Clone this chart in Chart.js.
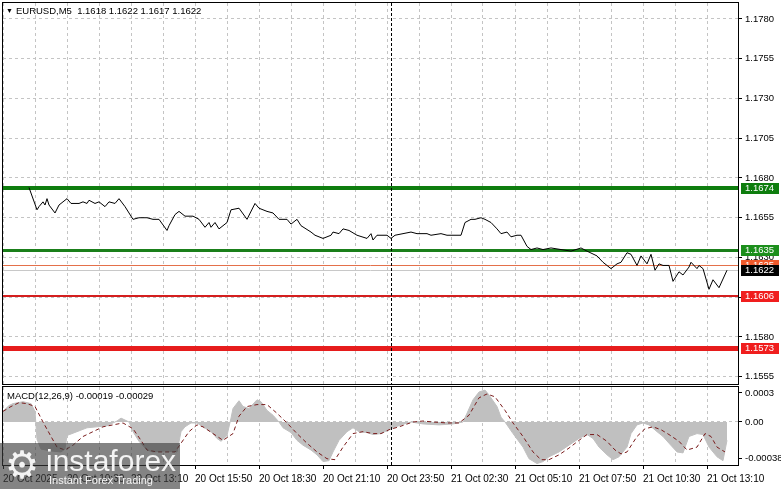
<!DOCTYPE html>
<html lang="en">
<head>
<meta charset="utf-8" />
<title>EURUSD M5</title>
<style>
  body { margin: 0; background: #fff; }
  #wrap { position: relative; width: 781px; height: 489px; overflow: hidden; font-family: "Liberation Sans", Arial, sans-serif; }
  canvas { position: absolute; left: 0; }
  #mainChart { top: 0; }
  #macdChart { top: 386px; }
  .caption { position: absolute; font-size: 9.5px; line-height: 11px; color: #000; white-space: pre; z-index: 2; }
  .caption .tri { font-size: 7px; vertical-align: 1px; margin-right: 3px; }
  #brand { position: absolute; left: 0; top: 443px; width: 180px; height: 46px; background: rgba(60,60,60,0.63); z-index: 3; color: #f4f4f4; }
  #brand .gear { position: absolute; left: 5px; top: 1px; font: 38px/42px "DejaVu Sans", sans-serif; }
  #brand .word { position: absolute; left: 46px; top: 2px; font: 30px/32px "Liberation Sans", Arial, sans-serif; }
  #brand .tag { position: absolute; left: 49px; top: 31px; font: 11px/13px "Liberation Sans", Arial, sans-serif; }
</style>
</head>
<body>

<div id="wrap">
  <canvas id="mainChart" width="781" height="386"></canvas>
  <canvas id="macdChart" width="781" height="103"></canvas>
  <div class="caption" style="left:6px; top:5px;"><span class="tri">▼</span>EURUSD,M5  1.1618 1.1622 1.1617 1.1622</div>
  <div class="caption" style="left:7px; top:390px;">MACD(12,26,9) -0.00019 -0.00029</div>
  <div id="brand"><span class="gear">⚙</span><span class="word">instaforex</span><span class="tag">Instant Forex Trading</span></div>
</div>

<script src="https://cdn.jsdelivr.net/npm/chart.js"></script>

<script>
    // bar index = 5 minute bars counted from the left edge of the chart
    const timeBars = [0, 32, 64, 96, 128, 160, 192, 224, 256, 288, 320, 352];
    const timeLabels = ['20 Oct 2025', '20 Oct 10:30', '20 Oct 13:10', '20 Oct 15:50', '20 Oct 18:30', '20 Oct 21:10',
        '20 Oct 23:50', '21 Oct 02:30', '21 Oct 05:10', '21 Oct 07:50', '21 Oct 10:30', '21 Oct 13:10'];
    const gridBars = [0, 16, 32, 48, 64, 80, 96, 112, 128, 144, 160, 176, 192, 208, 224, 240, 256, 272, 288, 304, 320, 336, 352];
    const markerBar = 194;

    const priceTicks = [1.1780, 1.1755, 1.1730, 1.1705, 1.1680, 1.1655, 1.1630, 1.1605, 1.1580, 1.1555];
    const macdTicks = [0.0003, 0, -0.00038];
    const macdTickLabels = ['0.0003', '0.00', '-0.00038'];

    const priceBars = [
        13, 17, 18, 20, 21, 22, 23, 26,
        28, 32, 34, 38, 40, 42, 43, 46, 48, 51,
        53, 56, 58, 61, 63, 65, 68, 72, 75, 78,
        82, 83, 86, 88, 91, 95, 98, 101, 103, 104,
        106, 108, 112, 114, 118, 122, 126, 128, 130, 132,
        135, 138, 142, 144, 147, 149, 154, 156, 160, 164,
        165, 168, 170, 173, 177, 182, 184, 185, 187, 192,
        194, 196, 200, 204, 207, 212, 214, 219, 222, 229,
        231, 234, 236, 239, 241, 244, 247, 249, 252, 254,
        257, 259, 262, 264, 267, 270, 274, 279, 284, 289,
        292, 297, 300, 304, 307, 309, 312, 314, 317, 319,
        322, 324, 326, 328, 330, 333, 335, 338, 340, 343,
        344, 347, 348, 350, 353, 355, 358, 362];
    const priceValues = [
        1.1674, 1.1660, 1.1662, 1.1665, 1.1663, 1.1667, 1.1663, 1.1658,
        1.1663, 1.1667, 1.1664, 1.1664, 1.1665, 1.1664, 1.1666, 1.1664, 1.1665, 1.1662,
        1.1665, 1.1664, 1.1667, 1.1662, 1.1658, 1.1654, 1.1655, 1.1655, 1.1654, 1.1654,
        1.1647, 1.1650, 1.1657, 1.1659, 1.1656, 1.1656, 1.1654, 1.1649, 1.1652, 1.1649,
        1.1652, 1.1648, 1.1652, 1.1660, 1.1661, 1.1654, 1.1664, 1.1661, 1.1660, 1.1659,
        1.1658, 1.1654, 1.1654, 1.1651, 1.1654, 1.1650, 1.1646, 1.1644, 1.1642, 1.1644,
        1.1646, 1.1645, 1.1648, 1.1647, 1.1644, 1.1642, 1.1645, 1.1641, 1.1644, 1.1644,
        1.1642, 1.1644, 1.1645, 1.1646, 1.1645, 1.1645, 1.1644, 1.1645, 1.1644, 1.1644,
        1.1652, 1.1654, 1.1654, 1.1655, 1.1654, 1.1652, 1.1648, 1.1645, 1.1646, 1.1643,
        1.1644, 1.1644, 1.1637, 1.1635, 1.1636, 1.1635, 1.1636, 1.1635, 1.1634, 1.1636,
        1.1634, 1.1631, 1.1627, 1.1623, 1.1626, 1.1627, 1.1633, 1.1632, 1.1625, 1.1631,
        1.1626, 1.1632, 1.1622, 1.1626, 1.1625, 1.1625, 1.1615, 1.1621, 1.1619, 1.1624,
        1.1627, 1.1623, 1.1625, 1.1623, 1.1610, 1.1616, 1.1611, 1.1622];

    const histBars = [
        0, 3, 5, 10, 14, 16, 17, 19, 24, 29,
        31, 32, 37, 42, 47, 52, 57, 59, 63, 65,
        68, 72, 75, 81, 87, 89, 91, 94, 97, 100,
        104, 107, 109, 112, 114, 115, 118, 120, 123, 127,
        129, 132, 135, 138, 140, 144, 147, 150, 154, 157,
        160, 163, 165, 168, 172, 175, 178, 182, 185, 189,
        194, 199, 204, 210, 218, 225, 230, 232, 235, 238,
        241, 243, 247, 249, 251, 255, 260, 263, 267, 270,
        273, 278, 283, 288, 292, 295, 298, 302, 305, 308,
        312, 314, 317, 320, 323, 327, 330, 333, 337, 340,
        343, 347, 350, 353, 357, 360, 362];
    const histValues = [
        0.00011, 0.00017, 0.00019, 0.00021, 0.00019, 0.00011, -0.00018, -0.00028, -0.00030, -0.00031,
        -0.00028, -0.00014, -0.00010, -0.00006, -0.00005, -0.00004, 0.00001, 0.00004, 0.00000, -0.00010,
        -0.00020, -0.00029, -0.00031, -0.00030, -0.00031, -0.00010, -0.00005, -0.00001, -0.00001, -0.00005,
        -0.00010, -0.00017, -0.00020, -0.00014, 0.00004, 0.00014, 0.00022, 0.00016, 0.00014, 0.00023,
        0.00021, 0.00012, 0.00007, 0.00000, -0.00006, -0.00011, -0.00019, -0.00024, -0.00029, -0.00034,
        -0.00041, -0.00040, -0.00031, -0.00019, -0.00010, -0.00006, -0.00010, -0.00011, -0.00013, -0.00012,
        -0.00007, -0.00003, 0.00000, -0.00002, -0.00003, -0.00002, 0.00000, 0.00009, 0.00023, 0.00031,
        0.00033, 0.00028, 0.00016, 0.00005, 0.00000, -0.00012, -0.00026, -0.00038, -0.00043, -0.00041,
        -0.00036, -0.00031, -0.00024, -0.00017, -0.00013, -0.00017, -0.00026, -0.00034, -0.00039, -0.00036,
        -0.00026, -0.00012, -0.00003, -0.00001, -0.00003, -0.00010, -0.00015, -0.00022, -0.00031, -0.00032,
        -0.00015, -0.00012, -0.00013, -0.00026, -0.00036, -0.00040, -0.00019];

    const signalBars = [
        0, 4, 8, 12, 16, 20, 24, 27, 31, 35,
        40, 45, 50, 55, 60, 65, 69, 72, 77, 82,
        86, 89, 93, 97, 100, 105, 110, 115, 118, 122,
        127, 132, 137, 142, 147, 152, 157, 162, 166, 170,
        175, 180, 185, 189, 193, 198, 205, 210, 215, 222,
        228, 233, 238, 242, 246, 251, 255, 260, 265, 269,
        273, 278, 283, 288, 292, 297, 302, 306, 309, 312,
        317, 321, 325, 329, 333, 338, 342, 347, 351, 354,
        357, 361];
    const signalValues = [
        0.00011, 0.00016, 0.00020, 0.00019, 0.00016, 0.00000, -0.00015, -0.00026, -0.00029, -0.00024,
        -0.00015, -0.00010, -0.00005, -0.00003, -0.00001, -0.00007, -0.00019, -0.00029, -0.00031, -0.00031,
        -0.00031, -0.00022, -0.00010, -0.00003, -0.00005, -0.00012, -0.00019, -0.00012, 0.00006, 0.00016,
        0.00018, 0.00018, 0.00009, -0.00001, -0.00012, -0.00022, -0.00031, -0.00038, -0.00039, -0.00026,
        -0.00012, -0.00010, -0.00012, -0.00012, -0.00008, -0.00005, 0.00000, 0.00001, 0.00000, -0.00001,
        -0.00001, 0.00007, 0.00025, 0.00029, 0.00026, 0.00012, -0.00001, -0.00015, -0.00031, -0.00039,
        -0.00039, -0.00034, -0.00027, -0.00019, -0.00013, -0.00013, -0.00020, -0.00029, -0.00033, -0.00031,
        -0.00015, -0.00007, -0.00005, -0.00008, -0.00013, -0.00020, -0.00029, -0.00026, -0.00012, -0.00015,
        -0.00026, -0.00031];

    // horizontal levels drawn on the chart
    const levelPrices = [1.1674, 1.1635, 1.1625, 1.1606, 1.1573];
    const bidPrice = 1.1622;

    const levelStyles = [
        { line: '#0e7d0e', width: 4, box: '#0e7d0e' },
        { line: '#1a7f1a', width: 3, box: '#1c8f1c' },
        { line: '#e4704a', width: 1, box: '#ef5a2c' },
        { line: '#d41e1e', width: 2, box: '#f01e1e' },
        { line: '#e61c1c', width: 5, box: '#f01e1e' }
    ];
    const bidStyle = { line: '#c8c8c8', width: 1, box: '#000000' };

    const FONT = "'Liberation Sans', Arial, sans-serif";
    Chart.defaults.font.family = FONT;
    Chart.defaults.font.size = 9.5;
    Chart.defaults.color = '#000';

    const X_MIN = 0, X_MAX = 367.5;

    function xy(bars, values) {
        return bars.map((b, i) => ({ x: b, y: values[i] }));
    }

    function drawFrame(chart) {
        const { ctx, chartArea: a } = chart;
        ctx.save();
        ctx.strokeStyle = '#000';
        ctx.lineWidth = 1;
        ctx.strokeRect(a.left - 0.5, a.top - 0.5, a.right - a.left + 1, a.bottom - a.top + 1);
        ctx.restore();
    }

    function drawMarker(chart) {
        const { ctx, chartArea: a, scales } = chart;
        const px = Math.round(scales.x.getPixelForValue(markerBar)) + 0.5;
        ctx.save();
        ctx.strokeStyle = '#000';
        ctx.lineWidth = 1;
        ctx.setLineDash([3, 2]);
        ctx.beginPath();
        ctx.moveTo(px, a.top);
        ctx.lineTo(px, a.bottom);
        ctx.stroke();
        ctx.restore();
    }

    function hLine(chart, price, st) {
        const { ctx, chartArea: a, scales } = chart;
        let py = Math.round(scales.y.getPixelForValue(price));
        if (st.width % 2) py += 0.5;
        ctx.strokeStyle = st.line;
        ctx.lineWidth = st.width;
        ctx.beginPath();
        ctx.moveTo(a.left, py);
        ctx.lineTo(a.right, py);
        ctx.stroke();
    }

    function priceBox(chart, price, st) {
        const { ctx, chartArea: a, scales } = chart;
        const py = Math.round(scales.y.getPixelForValue(price));
        ctx.fillStyle = st.box;
        ctx.fillRect(a.right + 3, py - 5, 38, 11);
        ctx.fillStyle = '#fff';
        ctx.font = '9.5px ' + FONT;
        ctx.textAlign = 'left';
        ctx.textBaseline = 'middle';
        ctx.fillText(price.toFixed(4), a.right + 7, py + 0.5);
    }

    const mainDecor = {
        id: 'mainDecor',
        beforeDatasetsDraw(chart) {
            const { ctx } = chart;
            ctx.save();
            levelPrices.forEach((p, i) => hLine(chart, p, levelStyles[i]));
            hLine(chart, bidPrice, bidStyle);
            ctx.restore();
        },
        afterDraw(chart) {
            const { ctx } = chart;
            drawMarker(chart);
            drawFrame(chart);
            ctx.save();
            levelPrices.forEach((p, i) => priceBox(chart, p, levelStyles[i]));
            priceBox(chart, bidPrice, bidStyle);
            ctx.restore();
        }
    };

    const macdDecor = {
        id: 'macdDecor',
        afterDraw(chart) {
            drawMarker(chart);
            drawFrame(chart);
        }
    };

    function fitRight(s) {
        s.width = 43;
        s.paddingTop = 0;
        s.paddingBottom = 0;
    }

    const mainChart = new Chart(document.getElementById('mainChart'), {
        type: 'line',
        data: {
            datasets: [{
                data: xy(priceBars, priceValues),
                borderColor: '#000',
                borderWidth: 1,
                pointRadius: 0,
                tension: 0
            }]
        },
        options: {
            responsive: false,
            animation: false,
            layout: { padding: { left: 3, top: 3, right: 0, bottom: 2 } },
            plugins: { legend: { display: false }, tooltip: { enabled: false } },
            scales: {
                x: {
                    type: 'linear',
                    min: X_MIN,
                    max: X_MAX,
                    afterBuildTicks: s => { s.ticks = gridBars.map(v => ({ value: v })); },
                    ticks: { display: false },
                    grid: { color: '#c4c4c4', drawTicks: false },
                    border: { display: false, dash: [3, 3] },
                    afterFit: s => { s.height = 0; s.paddingLeft = 0; s.paddingRight = 0; }
                },
                y: {
                    position: 'right',
                    min: 1.155044,
                    max: 1.179006,
                    afterBuildTicks: s => { s.ticks = priceTicks.map(v => ({ value: v })); },
                    ticks: { autoSkip: false, padding: 3, callback: v => v.toFixed(4) },
                    grid: { color: '#c4c4c4', tickColor: '#000', tickLength: 4 },
                    border: { display: false, dash: [3, 3] },
                    afterFit: fitRight
                }
            }
        },
        plugins: [mainDecor]
    });

    const macdChart = new Chart(document.getElementById('macdChart'), {
        type: 'line',
        data: {
            datasets: [{
                label: 'Signal',
                data: xy(signalBars, signalValues),
                borderColor: '#7a1c1c',
                borderWidth: 1,
                borderDash: [4, 3],
                pointRadius: 0,
                tension: 0
            }, {
                label: 'MACD',
                data: xy(histBars, histValues),
                borderColor: '#c0c0c0',
                backgroundColor: '#c0c0c0',
                borderWidth: 1,
                fill: 'origin',
                pointRadius: 0,
                tension: 0
            }]
        },
        options: {
            responsive: false,
            animation: false,
            layout: { padding: { left: 3, top: 1, right: 0, bottom: 0 } },
            plugins: { legend: { display: false }, tooltip: { enabled: false } },
            scales: {
                x: {
                    type: 'linear',
                    min: X_MIN,
                    max: X_MAX,
                    afterBuildTicks: s => { s.ticks = gridBars.map(v => ({ value: v })); },
                    ticks: {
                        autoSkip: false,
                        maxRotation: 0,
                        minRotation: 0,
                        align: 'start',
                        padding: 4,
                        font: { size: 10 },
                        callback: v => {
                            const k = timeBars.indexOf(v);
                            return k >= 0 ? timeLabels[k] : '';
                        }
                    },
                    grid: {
                        color: '#c4c4c4',
                        tickLength: 4,
                        tickColor: c => timeBars.includes(c.tick.value) ? '#000' : 'rgba(0,0,0,0)'
                    },
                    border: { display: false, dash: [3, 3] },
                    afterFit: s => { s.height = 24; s.paddingLeft = 0; s.paddingRight = 0; }
                },
                y: {
                    position: 'right',
                    min: -0.000445,
                    max: 0.000362,
                    afterBuildTicks: s => { s.ticks = macdTicks.map(v => ({ value: v })); },
                    ticks: { autoSkip: false, padding: 3, callback: (v, i) => macdTickLabels[i] },
                    grid: {
                        color: c => c.tick && c.tick.value === 0 ? '#c4c4c4' : 'rgba(0,0,0,0)',
                        tickColor: '#000',
                        tickLength: 4
                    },
                    border: { display: false, dash: [3, 3] },
                    afterFit: fitRight
                }
            }
        },
        plugins: [macdDecor]
    });
</script>

</body>
</html>
